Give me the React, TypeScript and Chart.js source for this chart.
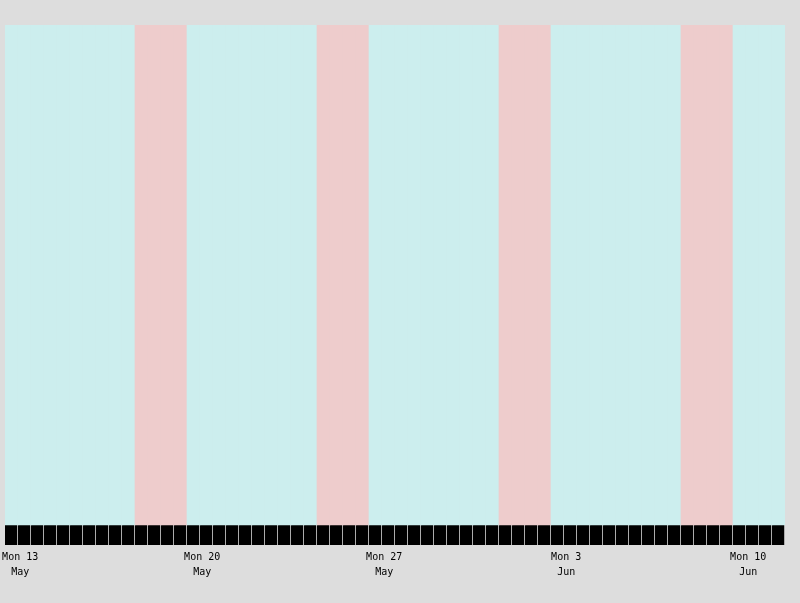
import React, { useEffect, useRef } from "react";
import { Chart, registerables } from "chart.js";

Chart.register(...registerables);

// One entry per day, starting Monday 13 May
const dayTypes: string[] = [
  "weekday", "weekday", "weekday", "weekday", "weekday", "weekend", "weekend",
  "weekday", "weekday", "weekday", "weekday", "weekday", "weekend", "weekend",
  "weekday", "weekday", "weekday", "weekday", "weekday", "weekend", "weekend",
  "weekday", "weekday", "weekday", "weekday", "weekday", "weekend", "weekend",
  "weekday", "weekday",
];
const tickDays: number[] = [0, 7, 14, 21, 28];
const tickLabels: string[][] = [
  ["Mon 13", "May"],
  ["Mon 20", "May"],
  ["Mon 27", "May"],
  ["Mon 3", "Jun"],
  ["Mon 10", "Jun"],
];

const WEEKDAY_COLOR = "#cceeee";
const WEEKEND_COLOR = "#eecccc";
const BG = "#dddddd";

export default function App() {
  const ref = useRef<HTMLCanvasElement | null>(null);
  useEffect(() => {
    document.body.style.margin = "0";
    document.body.style.background = BG;
    const canvas = ref.current!;
    const halfDays: number[] = [];
    dayTypes.forEach((_, d) => {
      halfDays.push(d * 2, d * 2 + 1);
    });
    const bandData = halfDays.map((h) => ({ x: h * 12 + 6, y: [0, 1] }));
    const bandColors = halfDays.map((h) =>
      dayTypes[Math.floor(h / 2)] === "weekend" ? WEEKEND_COLOR : WEEKDAY_COLOR
    );
    const stripData = halfDays.map((h) => ({ x: h * 12 + 6, y: [-0.04, 0] }));
    const chart = new Chart(canvas, {
      type: "bar",
      data: {
        datasets: [
          {
            data: bandData as any,
            backgroundColor: bandColors,
            borderWidth: 0,
            grouped: false,
            barPercentage: 1,
            categoryPercentage: 1,
          } as any,
          {
            data: stripData as any,
            backgroundColor: "#000000",
            borderColor: "#ffffff",
            borderWidth: { left: 0, right: 1, top: 0, bottom: 0 },
            borderSkipped: false,
            grouped: false,
            barPercentage: 1,
            categoryPercentage: 1,
          } as any,
        ],
      },
      options: {
        animation: false,
        responsive: false,
        maintainAspectRatio: false,
        layout: { padding: { left: 5, right: 15, top: 25, bottom: 26 } },
        plugins: { legend: { display: false }, tooltip: { enabled: false } },
        scales: {
          x: {
            type: "linear",
            offset: false,
            min: 0,
            max: dayTypes.length * 24,
            grid: { display: false },
            border: { display: false },
            afterBuildTicks: (scale: any) => {
              scale.ticks = tickDays.map((d) => ({ value: d * 24 + 14 }));
            },
            ticks: {
              autoSkip: false,
              maxRotation: 0,
              padding: -3,
              color: "#000000",
              font: { family: "DejaVu Sans Mono", size: 10, lineHeight: "15px" },
              callback: (_v: any, i: number) => tickLabels[i],
            },
          },
          y: {
            display: false,
            min: -0.04,
            max: 1,
          },
        },
      },
    });
    return () => chart.destroy();
  }, []);
  return <canvas ref={ref} width={800} height={603} style={{ display: "block" }} />;
}
